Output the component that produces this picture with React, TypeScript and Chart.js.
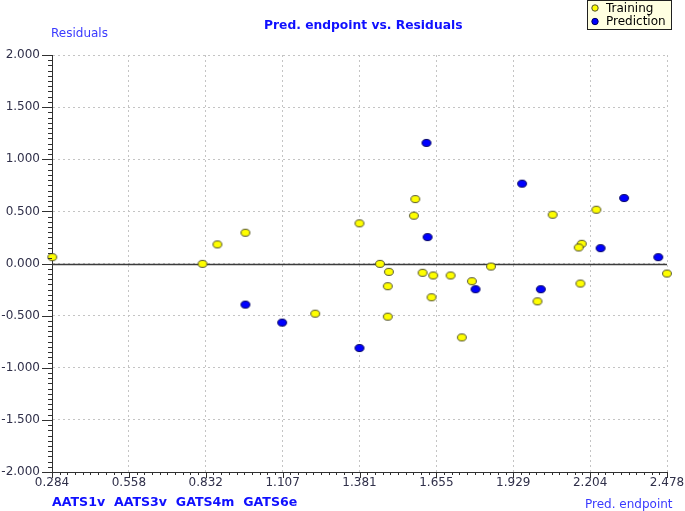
import React, { useEffect, useRef } from "react";
import { Chart, registerables } from "chart.js";

Chart.register(...registerables);

// Training set: predicted endpoint (x) and residual (y)
const trainingX = [0.285, 0.821, 0.874, 0.974, 1.223, 1.381, 1.58, 1.575, 2.226, 2.07, 2.174, 2.163, 1.454, 1.85, 1.486, 1.606, 1.644, 1.706, 2.478, 1.782, 1.482, 2.169, 1.638, 2.016, 1.482, 1.746];
const trainingY = [0.061, -0.003, 0.183, 0.295, -0.481, 0.385, 0.618, 0.459, 0.516, 0.468, 0.189, 0.154, -0.003, -0.029, -0.08, -0.089, -0.115, -0.115, -0.096, -0.17, -0.218, -0.192, -0.324, -0.363, -0.51, -0.709];

// Prediction set
const predictionX = [0.974, 1.105, 1.381, 1.62, 1.961, 2.325, 1.624, 2.241, 2.447, 1.795, 2.028];
const predictionY = [-0.394, -0.567, -0.811, 1.157, 0.766, 0.628, 0.253, 0.147, 0.061, -0.247, -0.247];

const xMin = 0.284;
const xMax = 2.478;
const xTickLabels = ["0.284", "0.558", "0.832", "1.107", "1.381", "1.655", "1.929", "2.204", "2.478"];
const yMin = -2;
const yMax = 2;
const yStep = 0.5;

const titleText = "Pred. endpoint vs. Residuals";
const yAxisTitle = "Residuals";
const xAxisTitle = "Pred. endpoint";
const descriptorText = "AATS1v  AATS3v  GATS4m  GATS6e";

const FONT = "'DejaVu Sans', Verdana, sans-serif";

function ellipseImage(fill: string, stroke: string) {
  const c = document.createElement("canvas");
  c.width = 12;
  c.height = 10;
  const g = c.getContext("2d")!;
  g.beginPath();
  g.ellipse(6, 5, 4.4, 3.5, 0, 0, Math.PI * 2);
  g.fillStyle = fill;
  g.fill();
  g.lineWidth = 1;
  g.strokeStyle = stroke;
  g.stroke();
  return c;
}

const decorPlugin = {
  id: "decor",
  beforeDatasetsDraw(chart: any) {
    const { ctx, chartArea, scales } = chart;
    const y0 = Math.round(scales.y.getPixelForValue(0)) + 0.5;
    ctx.save();
    ctx.strokeStyle = "#3c3c3c";
    ctx.lineWidth = 1.3;
    ctx.beginPath();
    ctx.moveTo(chartArea.left, y0);
    ctx.lineTo(chartArea.right, y0);
    ctx.stroke();
    ctx.restore();
  },
  afterDraw(chart: any) {
    const { ctx, chartArea, scales } = chart;
    const xs = scales.x;
    const ys = scales.y;
    ctx.save();
    // minor & major ticks
    ctx.strokeStyle = "#303030";
    ctx.lineWidth = 1;
    ctx.beginPath();
    const yDivs = Math.round((yMax - yMin) / yStep) * 10;
    for (let i = 0; i <= yDivs; i++) {
      const v = yMin + (i * (yMax - yMin)) / yDivs;
      const p = Math.round(ys.getPixelForValue(v)) + 0.5;
      const len = i % 10 === 0 ? 10 : 4;
      ctx.moveTo(chartArea.left - len, p);
      ctx.lineTo(chartArea.left, p);
    }
    const xDivs = (xTickLabels.length - 1) * 10;
    for (let i = 0; i <= xDivs; i++) {
      const v = xMin + (i * (xMax - xMin)) / xDivs;
      const p = Math.round(xs.getPixelForValue(v)) + 0.5;
      const len = i % 10 === 0 ? 6 : 3;
      ctx.moveTo(p, chartArea.bottom);
      ctx.lineTo(p, chartArea.bottom + len);
    }
    ctx.stroke();

    // texts
    ctx.textBaseline = "middle";
    ctx.textAlign = "left";
    ctx.fillStyle = "#1010ff";
    ctx.font = `bold 12.3px ${FONT}`;
    ctx.fillText(titleText, 264, 26);
    ctx.font = `bold 12.6px ${FONT}`;
    ctx.fillText(descriptorText, 52, 503);
    ctx.fillStyle = "#3a3aff";
    ctx.font = `12px ${FONT}`;
    ctx.fillText(yAxisTitle, 51, 34);
    ctx.fillText(xAxisTitle, 585, 505);

    // legend
    const bx = 587.5, by = 0.5, bw = 84, bh = 29;
    ctx.fillStyle = "#ffffe1";
    ctx.fillRect(bx, by, bw, bh);
    ctx.strokeStyle = "#202020";
    ctx.strokeRect(bx, by, bw, bh);
    const items = chart.data.datasets;
    items.forEach((ds: any, i: number) => {
      const cy = 8 + i * 13.5;
      ctx.beginPath();
      ctx.arc(595, cy, 3.2, 0, Math.PI * 2);
      ctx.fillStyle = ds.legendFill;
      ctx.fill();
      ctx.strokeStyle = ds.legendStroke;
      ctx.stroke();
      ctx.fillStyle = "#000";
      ctx.font = `12px ${FONT}`;
      ctx.textAlign = "left";
      ctx.fillText(ds.label, 606, cy + 0.5);
    });
    ctx.restore();
  },
};

export default function App() {
  const ref = useRef<HTMLCanvasElement>(null);
  useEffect(() => {
    const yellow = ellipseImage("#ffff00", "#505030");
    const blue = ellipseImage("#0000ff", "#000060");
    const chart = new Chart(ref.current!, {
      type: "scatter",
      data: {
        datasets: [
          {
            label: "Training",
            data: trainingX.map((x, i) => ({ x, y: trainingY[i] })),
            pointStyle: yellow as any,
            pointRadius: 5,
            clip: false as any,
            legendFill: "#ffff00",
            legendStroke: "#505030",
          } as any,
          {
            label: "Prediction",
            data: predictionX.map((x, i) => ({ x, y: predictionY[i] })),
            pointStyle: blue as any,
            pointRadius: 5,
            clip: false as any,
            legendFill: "#0000ff",
            legendStroke: "#000060",
          } as any,
        ],
      },
      options: {
        responsive: false,
        animation: false,
        events: [],
        layout: { padding: { top: 55, right: 18, left: 0, bottom: 0 } },
        plugins: { legend: { display: false }, title: { display: false }, tooltip: { enabled: false } },
        scales: {
          x: {
            type: "linear",
            min: xMin,
            max: xMax,
            afterBuildTicks: (scale: any) => {
              scale.ticks = xTickLabels.map((_, i) => ({ value: xMin + (i * (xMax - xMin)) / (xTickLabels.length - 1) }));
            },
            afterFit: (scale: any) => {
              scale.height = 39;
              scale.paddingLeft = 0;
              scale.paddingRight = 0;
            },
            ticks: {
              autoSkip: false,
              maxRotation: 0,
              padding: 4,
              color: "#30304a",
              font: { family: FONT, size: 12 },
              callback: (_v: any, i: number) => xTickLabels[i],
            },
            grid: { color: "#c4c4c4", drawTicks: false, lineWidth: 1 },
            border: { color: "#303030", width: 1, dash: [2, 3] },
          },
          y: {
            type: "linear",
            min: yMin,
            max: yMax,
            ticks: {
              stepSize: yStep,
              padding: 12,
              color: "#30304a",
              font: { family: FONT, size: 12 },
              callback: (v: any) => Number(v).toFixed(3),
            },
            afterFit: (scale: any) => {
              scale.width = 52;
              scale.paddingTop = 0;
              scale.paddingBottom = 0;
            },
            grid: { color: "#c4c4c4", drawTicks: false, lineWidth: 1 },
            border: { color: "#303030", width: 1, dash: [2, 3] },
          },
        },
      },
      plugins: [decorPlugin],
    });
    return () => chart.destroy();
  }, []);
  return (
    <canvas
      ref={ref}
      width={685}
      height={511}
      style={{ position: "absolute", left: 0, top: 0, display: "block" }}
    />
  );
}
